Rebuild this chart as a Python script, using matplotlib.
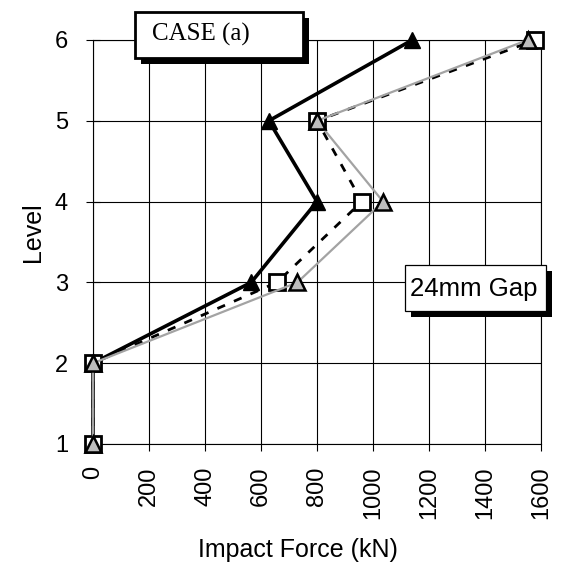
import matplotlib
matplotlib.use("Agg")
import matplotlib.pyplot as plt
from matplotlib.patches import Rectangle

# Storey impact forces for the 24 mm gap, case (a)
levels = [1, 2, 3, 4, 5, 6]
force_solid = [0, 0, 565, 800, 628, 1140]
force_dashed = [0, 0, 657, 960, 800, 1580]
force_grey = [0, 0, 730, 1036, 800, 1552]
x_ticks = [0, 200, 400, 600, 800, 1000, 1200, 1400, 1600]
y_ticks = [1, 2, 3, 4, 5, 6]

W, H = 562, 568
fig = plt.figure(figsize=(W / 100, H / 100), dpi=100)
plt.rcParams["font.family"] = ["Liberation Sans", "DejaVu Sans"]


def fx(px):
    return px / W


def fy(py):
    return 1 - py / H


ax = fig.add_axes([fx(93), fy(444), fx(541) - fx(93), fy(40) - fy(444)])
ax.set_xlim(0, 1600)
ax.set_ylim(1, 6)
ax.set_xticks(x_ticks)
ax.set_yticks(y_ticks)
ax.set_xticklabels([str(v) for v in x_ticks], rotation=90, fontsize=17)
ax.set_yticklabels([str(v) for v in y_ticks], fontsize=17)
ax.tick_params(axis="x", direction="out", length=5, width=0.8, pad=11)
ax.tick_params(axis="y", direction="inout", length=10, width=0.8, pad=13)
ax.grid(True, color="black", linewidth=0.8)
ax.set_axisbelow(True)
for sp in ax.spines.values():
    sp.set_linewidth(0.8)
    sp.set_color("black")

ax.plot(force_solid, levels, color="black", linewidth=2.6, marker="^",
        markersize=12, markerfacecolor="black", markeredgecolor="black",
        clip_on=False, zorder=3)
ax.plot(force_dashed, levels, color="black", linewidth=2.0,
        linestyle=(0, (3, 3.5)), marker="s", markersize=11,
        markerfacecolor="white", markeredgecolor="black",
        markeredgewidth=2.0, clip_on=False, zorder=4)
ax.plot(force_grey, levels, color="#a3a3a3", linewidth=1.6, marker="^",
        markersize=11, markerfacecolor="#bdbdbd", markeredgecolor="black",
        markeredgewidth=1.8, clip_on=False, zorder=5)

fig.text(fx(298), fy(550), "Impact Force (kN)", fontsize=18,
         ha="center", va="center")
fig.text(fx(33), fy(232), "Level", fontsize=18, rotation=90,
         ha="center", va="center")


def shadow_box(x0, y0, x1, y1, off, lw):
    fig.add_artist(Rectangle((fx(x0 + off), fy(y1 + off)),
                             fx(x1 - x0), fy(y0) - fy(y1),
                             transform=fig.transFigure, facecolor="black",
                             edgecolor="none", zorder=10))
    fig.add_artist(Rectangle((fx(x0), fy(y1)), fx(x1 - x0), fy(y0) - fy(y1),
                             transform=fig.transFigure, facecolor="white",
                             edgecolor="black", linewidth=lw, zorder=11))


shadow_box(135, 12, 303, 58, 6, 2.0)
fig.text(fx(152), fy(34), "CASE (a)", fontsize=18,
         family=["Liberation Serif", "DejaVu Serif"],
         ha="left", va="center", zorder=12)

shadow_box(405, 265, 546, 311, 6, 0.9)
fig.text(fx(410), fy(289), "24mm Gap", fontsize=18.5,
         ha="left", va="center", zorder=12)

fig.savefig("out.png", dpi=100)
